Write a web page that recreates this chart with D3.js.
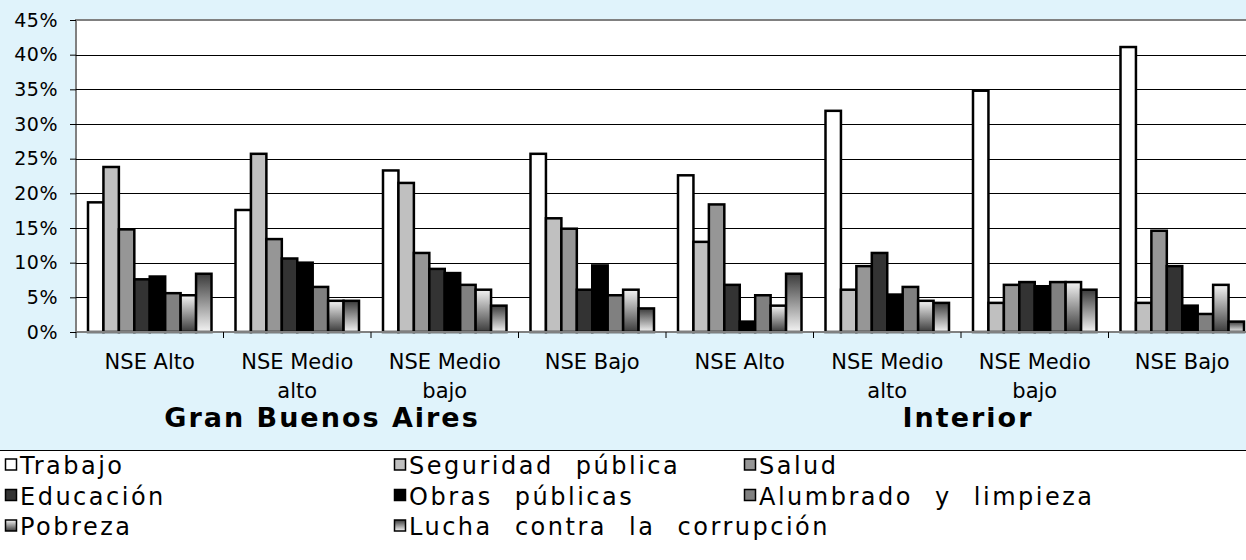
<!DOCTYPE html>
<html>
<head>
<meta charset="utf-8">
<script src="https://cdn.jsdelivr.net/npm/d3@7"></script>
<style>
  body { margin: 0; background: #e0f3fb; }
  svg { display: block; font-family: "DejaVu Sans", Verdana, sans-serif; }
</style>
</head>
<body>
<svg id="chart" width="1246" height="560"></svg>
<script>
// categories (two lines per label) and region labels
var categories = [
  ["NSE Alto"], ["NSE Medio", "alto"], ["NSE Medio", "bajo"], ["NSE Bajo"],
  ["NSE Alto"], ["NSE Medio", "alto"], ["NSE Medio", "bajo"], ["NSE Bajo"]
];
var regions = ["Gran Buenos Aires", "Interior"];

var series = ["Trabajo", "Seguridad pública", "Salud", "Educación",
  "Obras públicas", "Alumbrado y limpieza", "Pobreza", "Lucha contra la corrupción"];

// percent values, one array per series, in category order
var trabajo    = [18.7, 17.6, 23.3, 25.7, 22.6, 31.9, 34.8, 41.1];
var seguridad  = [23.8, 25.7, 21.5, 16.4, 13.0,  6.1,  4.2,  4.2];
var salud      = [14.8, 13.4, 11.4, 14.9, 18.4,  9.5,  6.8, 14.6];
var educacion  = [ 7.6, 10.6,  9.1,  6.1,  6.8, 11.4,  7.2,  9.5];
var obras      = [ 8.0, 10.0,  8.5,  9.6,  1.5,  5.4,  6.6,  3.8];
var alumbrado  = [ 5.6,  6.5,  6.8,  5.3,  5.3,  6.5,  7.2,  2.6];
var pobreza    = [ 5.3,  4.5,  6.1,  6.1,  3.8,  4.5,  7.2,  6.8];
var lucha      = [ 8.4,  4.5,  3.8,  3.4,  8.4,  4.2,  6.1,  1.5];
var values = [trabajo, seguridad, salud, educacion, obras, alumbrado, pobreza, lucha];

var yTicks = [0, 5, 10, 15, 20, 25, 30, 35, 40, 45];

(function () {
  var fills = ["#ffffff", "#c0c0c0", "#969696", "#333333", "#000000", "#808080",
    "url(#gradPobreza)", "url(#gradLucha)"];

  var svg = d3.select("#chart");
  var pLeft = 76, pRight = 1256, pTop = 20, pBottom = 332;

  var defs = svg.append("defs");
  function grad(id, c1, c2) {
    var g = defs.append("linearGradient").attr("id", id)
        .attr("x1", 0).attr("y1", 0).attr("x2", 0).attr("y2", 1);
    g.append("stop").attr("offset", "0%").attr("stop-color", c1);
    g.append("stop").attr("offset", "100%").attr("stop-color", c2);
  }
  grad("gradPobreza", "#f4f4f4", "#3a3a3a");
  grad("gradLucha", "#3a3a3a", "#f4f4f4");

  var x0 = d3.scaleBand().domain(d3.range(categories.length)).range([pLeft, pRight]);
  var x1 = d3.scaleBand().domain(d3.range(series.length))
      .range([12, x0.bandwidth() - 12]);
  var y = d3.scaleLinear().domain([0, 45]).range([pBottom, pTop]);

  // plot area
  svg.append("rect").attr("x", pLeft).attr("y", pTop)
      .attr("width", pRight - pLeft).attr("height", pBottom - pTop)
      .attr("fill", "#fff").attr("stroke", "#808080").attr("stroke-width", 2);

  // gridlines
  svg.append("g").selectAll("line").data(yTicks.slice(1, -1)).enter().append("line")
      .attr("x1", pLeft).attr("x2", pRight)
      .attr("y1", function(d) { return Math.round(y(d)) + 0.5; })
      .attr("y2", function(d) { return Math.round(y(d)) + 0.5; })
      .attr("stroke", "#000").attr("stroke-width", 1);

  // y axis
  var yAxis = svg.append("g").attr("transform", "translate(" + pLeft + ",0)")
      .call(d3.axisLeft(y).tickValues(yTicks).tickSize(6).tickPadding(12)
        .tickFormat(function(d) { return d + "%"; }));
  yAxis.select(".domain").remove();
  yAxis.selectAll("line").attr("stroke", "#000");
  yAxis.selectAll("text").attr("font-size", 19).attr("fill", "#000")
      .attr("font-family", "DejaVu Sans").style("letter-spacing", "0.5px");

  // bars
  var groups = svg.append("g").selectAll("g").data(categories).enter().append("g")
      .attr("transform", function(d, i) { return "translate(" + x0(i) + ",0)"; });

  groups.selectAll("rect").data(function(d, i) {
      return values.map(function(s, j) { return { s: j, v: s[i] }; });
    }).enter().append("rect")
      .attr("x", function(d) { return x1(d.s); })
      .attr("y", function(d) { return y(d.v); })
      .attr("width", x1.bandwidth())
      .attr("height", function(d) { return y(0) - y(d.v); })
      .attr("fill", function(d) { return fills[d.s]; })
      .attr("stroke", "#000").attr("stroke-width", 2.5);

  // x baseline
  svg.append("line").attr("x1", pLeft).attr("x2", pRight)
      .attr("y1", pBottom).attr("y2", pBottom)
      .attr("stroke", "#808080").attr("stroke-width", 2);

  // x ticks
  svg.append("g").selectAll("line").data(d3.range(categories.length + 1)).enter().append("line")
      .attr("x1", function(i) { return pLeft + i * x0.bandwidth(); })
      .attr("x2", function(i) { return pLeft + i * x0.bandwidth(); })
      .attr("y1", pBottom).attr("y2", pBottom + 6)
      .attr("stroke", "#000");

  // category labels
  var lab = svg.append("g").selectAll("text").data(categories).enter().append("text")
      .attr("text-anchor", "middle").attr("font-size", 21).attr("fill", "#000")
      .attr("x", function(d, i) { return x0(i) + x0.bandwidth() / 2; })
      .attr("y", 369);
  lab.selectAll("tspan").data(function(d) { return d; }).enter().append("tspan")
      .attr("x", function() { return d3.select(this.parentNode).attr("x"); })
      .attr("dy", function(d, i) { return i ? 29 : 0; })
      .text(function(d) { return d; });

  // region labels
  svg.append("g").selectAll("text").data(regions).enter().append("text")
      .attr("text-anchor", "middle").attr("font-size", 27).attr("font-weight", "bold")
      .attr("x", function(d, i) { return i ? 968 : 322; })
      .attr("y", 427)
      .style("letter-spacing", "2px")
      .text(function(d) { return d; });

  // legend
  svg.append("rect").attr("x", 0).attr("y", 450).attr("width", 1246).attr("height", 110)
      .attr("fill", "#fff");
  svg.append("line").attr("x1", 0).attr("x2", 1246).attr("y1", 450.5).attr("y2", 450.5)
      .attr("stroke", "#000");

  var colX = [4, 393, 743];
  var leg = svg.append("g").selectAll("g").data(series).enter().append("g")
      .attr("transform", function(d, i) {
        return "translate(" + colX[i % 3] + "," + (474 + Math.floor(i / 3) * 30.5) + ")";
      });
  leg.append("rect").attr("x", 1.5).attr("y", -15).attr("width", 11).attr("height", 11)
      .attr("fill", function(d, i) { return fills[i]; })
      .attr("stroke", "#000").attr("stroke-width", 1.5);
  leg.append("text").attr("x", 16).attr("font-size", 24)
      .style("letter-spacing", "2.5px").style("word-spacing", "12px")
      .text(function(d) { return d; });
})();
</script>
</body>
</html>
